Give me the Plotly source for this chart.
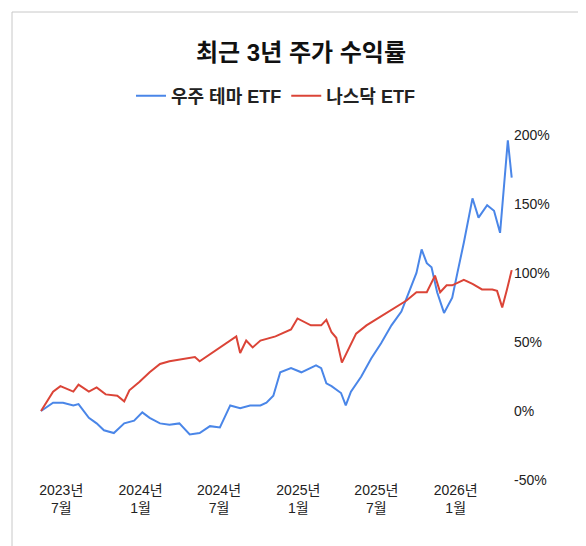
import plotly.graph_objects as go

blue_dates = ['2023-05-15', '2023-06-12', '2023-07-05', '2023-07-29', '2023-08-10', '2023-09-03',
              '2023-09-21', '2023-10-08', '2023-10-31', '2023-11-24', '2023-12-17', '2024-01-05',
              '2024-01-22', '2024-02-15', '2024-03-08', '2024-03-31', '2024-04-24', '2024-05-17',
              '2024-06-10', '2024-07-03', '2024-07-27', '2024-08-19', '2024-09-11', '2024-10-05',
              '2024-10-19', '2024-11-04', '2024-11-20', '2024-12-15', '2025-01-08', '2025-01-30',
              '2025-02-11', '2025-02-23', '2025-03-07', '2025-03-19', '2025-04-10', '2025-04-21',
              '2025-05-03', '2025-05-27', '2025-06-19', '2025-07-12', '2025-08-05', '2025-08-28',
              '2025-09-20', '2025-10-02', '2025-10-14', '2025-10-26', '2025-11-06', '2025-11-19',
              '2025-12-05', '2025-12-24', '2026-01-05', '2026-01-20', '2026-02-09', '2026-02-23',
              '2026-03-15', '2026-03-31', '2026-04-14', '2026-04-23', '2026-05-02', '2026-05-11']
blue_values = [0, 6, 6, 4, 5, -5, -9, -14, -16, -9, -7, -1,
               -5, -9, -10, -9, -17, -16, -11, -12, 4, 2, 4, 4,
               6, 11, 28, 31, 28, 31, 33, 31, 20, 18, 13, 4,
               14, 25, 38, 49, 62, 72, 91, 100, 117, 107, 104, 86,
               71, 82, 100, 122, 154, 140, 149, 145, 129, 165, 196, 169]

red_dates = ['2023-05-15', '2023-06-12', '2023-06-29', '2023-07-29', '2023-08-10', '2023-09-03',
             '2023-09-21', '2023-10-12', '2023-11-08', '2023-11-24', '2023-12-06', '2023-12-29',
             '2024-01-22', '2024-02-15', '2024-03-08', '2024-04-12', '2024-05-06', '2024-05-17',
             '2024-06-10', '2024-07-03', '2024-07-27', '2024-08-10', '2024-08-19', '2024-09-02',
             '2024-09-17', '2024-10-05', '2024-11-09', '2024-12-15', '2024-12-30', '2025-01-30',
             '2025-02-23', '2025-03-07', '2025-03-19', '2025-03-30', '2025-04-12', '2025-04-29',
             '2025-05-15', '2025-06-08', '2025-07-08', '2025-08-05', '2025-09-09', '2025-10-02',
             '2025-10-26', '2025-11-14', '2025-11-26', '2025-12-11', '2025-12-24', '2026-01-20',
             '2026-02-09', '2026-03-03', '2026-03-27', '2026-04-07', '2026-04-19', '2026-04-30',
             '2026-05-11']
red_values = [0, 14, 18, 14, 19, 14, 17, 12, 11, 7, 15, 21,
              28, 34, 36, 38, 39, 36, 41, 46, 51, 54, 42, 51,
              46, 51, 54, 59, 67, 62, 62, 66, 57, 53, 35, 46,
              56, 62, 68, 73, 80, 86, 86, 98, 86, 91, 91, 95,
              92, 88, 88, 87, 75, 88, 102]

tick_dates = ['2023-07-01', '2024-01-01', '2024-07-01', '2025-01-01', '2025-07-01', '2026-01-01']
tick_labels = ['2023년<br>7월', '2024년<br>1월', '2024년<br>7월', '2025년<br>1월', '2025년<br>7월', '2026년<br>1월']

font = 'Liberation Sans, Noto Sans CJK KR, sans-serif'

fig = go.Figure()
fig.add_trace(go.Scatter(x=blue_dates, y=blue_values, mode='lines', name='<b>우주 테마 ETF</b>',
                         line=dict(color='#4a86e8', width=2)))
fig.add_trace(go.Scatter(x=red_dates, y=red_values, mode='lines', name='<b>나스닥 ETF</b>',
                         line=dict(color='#db4437', width=2)))

l, r, t, b = 30, 81, 113, 74
pw, ph = 586 - l - r, 546 - t - b
fig.add_shape(type='rect', xref='paper', yref='paper',
              x0=(4 - l) / pw, x1=(581 - l) / pw, y0=(5 - b) / ph, y1=(542 - b) / ph,
              line=dict(color='#c8c8c8', width=1), layer='below')

fig.update_layout(
    width=586, height=546,
    margin=dict(l=l, r=r, t=t, b=b, autoexpand=False),
    paper_bgcolor='white', plot_bgcolor='white',
    font=dict(family=font, color='#222'),
    title=dict(text='<b>최근 3년 주가 수익률</b>', x=0.5, xanchor='center', y=0.918, yanchor='middle',
               font=dict(size=24, color='#111')),
    legend=dict(orientation='h', x=0.5, xanchor='center', y=(546 - 88 - b) / ph, yanchor='middle',
                font=dict(size=18, color='#222')),
    xaxis=dict(range=['2023-05-08', '2026-05-14'], tickvals=tick_dates, ticktext=tick_labels,
               showgrid=False, zeroline=False, showline=False, ticks='',
               tickfont=dict(size=14, color='#222')),
    yaxis=dict(range=[-50, 210], side='right', tickvals=[-50, 0, 50, 100, 150, 200],
               ticktext=['-50%', '0%', '50%', '100%', '150%', '200%'],
               showgrid=False, zeroline=False, showline=False, ticks='',
               tickfont=dict(size=14, color='#222')),
)

fig.write_html('out.html')
